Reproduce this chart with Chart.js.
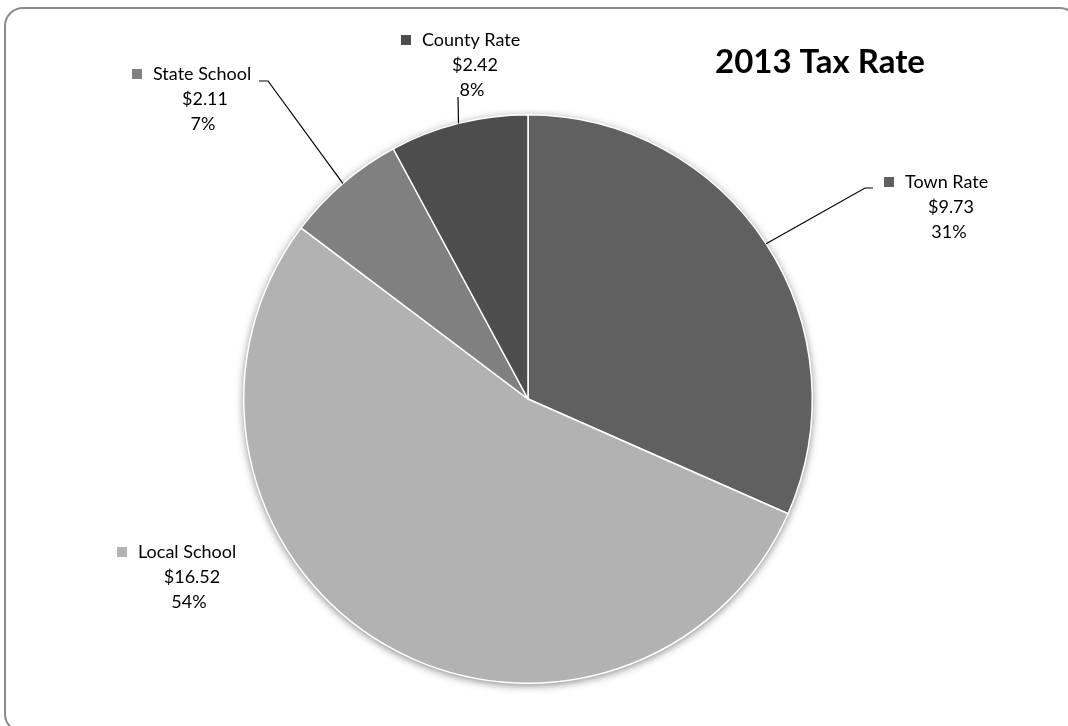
<!DOCTYPE html>
<html>
<head>
<meta charset="utf-8">
<title>2013 Tax Rate</title>
<script src="https://cdn.jsdelivr.net/npm/chart.js@4.4.0/dist/chart.umd.min.js"></script>
<style>
  html, body { margin: 0; padding: 0; background: #ffffff; }
  #wrap { width: 1068px; height: 726px; position: relative; }
</style>
</head>
<body>
<div id="wrap"><canvas id="chart" width="1068" height="726"></canvas></div>
<script>
// data
var categories = ["Town Rate", "Local School", "State School", "County Rate"];
var rates = [9.73, 16.52, 2.11, 2.42];
var pctLabels = ["31%", "54%", "7%", "8%"];
var sliceColors = ["#606060", "#b2b2b2", "#808080", "#4d4d4d"];
var chartTitle = "2013 Tax Rate";

// where each label sits (marker left, first line y, centres of line 2 and 3, leader bend points)
var labelSpots = [
  { mx: 884, y: 182, c2: 951, c3: 949, lead: [[865, 188], [873, 188]] },
  { mx: 117, y: 552, c2: 192, c3: 189, lead: null },
  { mx: 132, y: 74,  c2: 205, c3: 203, lead: [[268, 81], [259, 81]] },
  { mx: 401, y: 40,  c2: 475, c3: 472, lead: [[458, 97]] }
];
var lineGap = 25;
var labelFont = "18px Lato";

var framePlugin = {
  id: "frame",
  beforeDraw: function (chart) {
    var ctx = chart.ctx;
    ctx.save();
    ctx.strokeStyle = "#8a8a8a";
    ctx.lineWidth = 2;
    ctx.beginPath();
    ctx.roundRect(5, 8, 1073, 724, 18);
    ctx.stroke();
    ctx.restore();
  }
};

var shadowPlugin = {
  id: "pieShadow",
  beforeDatasetsDraw: function (chart) {
    var arc = chart.getDatasetMeta(0).data[0];
    if (!arc) return;
    var ctx = chart.ctx;
    ctx.save();
    ctx.shadowColor = "rgba(0,0,0,0.5)";
    ctx.shadowBlur = 9;
    ctx.shadowOffsetY = 2;
    ctx.fillStyle = "#ffffff";
    ctx.beginPath();
    ctx.arc(arc.x, arc.y, arc.outerRadius, 0, Math.PI * 2);
    ctx.fill();
    ctx.restore();
  }
};

var labelPlugin = {
  id: "sliceLabels",
  afterDatasetsDraw: function (chart) {
    var ctx = chart.ctx;
    var arcs = chart.getDatasetMeta(0).data;
    ctx.save();
    for (var i = 0; i < arcs.length; i++) {
      var a = arcs[i];
      var s = labelSpots[i];
      var mid = (a.startAngle + a.endAngle) / 2;
      // leader line from the slice edge
      if (s.lead) {
        ctx.strokeStyle = "#000000";
        ctx.lineWidth = 1.2;
        ctx.beginPath();
        ctx.moveTo(a.x + Math.cos(mid) * a.outerRadius, a.y + Math.sin(mid) * a.outerRadius);
        s.lead.forEach(function (p) { ctx.lineTo(p[0], p[1]); });
        ctx.stroke();
      }
      // legend key
      ctx.fillStyle = sliceColors[i];
      ctx.fillRect(s.mx, s.y - 5, 10, 10);
      ctx.fillStyle = "#000000";
      ctx.font = labelFont;
      ctx.textBaseline = "middle";
      ctx.textAlign = "left";
      ctx.fillText(categories[i], s.mx + 21, s.y);
      ctx.textAlign = "center";
      ctx.fillText("$" + rates[i].toFixed(2), s.c2, s.y + lineGap);
      ctx.fillText(pctLabels[i], s.c3, s.y + lineGap * 2);
    }
    // title
    ctx.fillStyle = "#000000";
    ctx.font = "bold 33px Lato";
    ctx.textAlign = "center";
    ctx.textBaseline = "middle";
    ctx.fillText(chartTitle, 820, 62);
    ctx.restore();
  }
};

var view = new Chart(document.getElementById("chart"), {
  type: "pie",
  data: {
    labels: categories,
    datasets: [{
      data: rates,
      backgroundColor: sliceColors,
      borderColor: "#ffffff",
      borderWidth: 1.5,
      hoverOffset: 0
    }]
  },
  options: {
    responsive: false,
    animation: false,
    events: [],
    devicePixelRatio: 1,
    layout: {
      padding: { top: 114, bottom: 42, left: 0, right: 12 }
    },
    plugins: {
      legend: { display: false },
      tooltip: { enabled: false },
      title: { display: false }
    }
  },
  plugins: [framePlugin, shadowPlugin, labelPlugin]
});
</script>
</body>
</html>
